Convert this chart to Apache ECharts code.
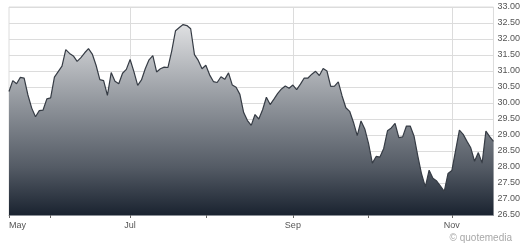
<!DOCTYPE html>
<html>
<head>
<meta charset="utf-8">
<script src="https://cdn.jsdelivr.net/npm/echarts@6/dist/echarts.min.js"></script>
<style>html,body{margin:0;padding:0;background:#fff;}#c{width:523px;height:248px;}</style>
</head>
<body>
<div id="c"></div>
<script>
// Trading calendar (categories)
const startDate = '2023-05-16';
const endDate = '2023-11-16';
const holidays = ['2023-05-29', '2023-06-19', '2023-07-04', '2023-09-04'];
const monthNames = ['Jan','Feb','Mar','Apr','May','Jun','Jul','Aug','Sep','Oct','Nov','Dec'];
const labelMonths = ['Jul', 'Sep', 'Nov'];
const yTicks = [26.5, 33.0, 0.5]; // min, max, step

// Closing prices, one per trading day
const prices = [
  30.36, 30.70, 30.60, 30.80, 30.78, 30.25, 29.84, 29.57, 29.76, 29.78,
  30.13, 30.16, 30.81, 30.98, 31.15, 31.67, 31.55, 31.47, 31.30, 31.42,
  31.57, 31.70, 31.53, 31.18, 30.73, 30.70, 30.24, 30.95, 30.68, 30.60,
  30.93, 31.05, 31.36, 30.98, 30.55, 30.72, 31.07, 31.35, 31.48, 30.97,
  31.07, 31.12, 31.11, 31.63, 32.26, 32.36, 32.45, 32.42, 32.32, 31.51,
  31.33, 31.07, 31.18, 30.88, 30.67, 30.64, 30.82, 30.74, 30.94, 30.56,
  30.49, 30.27, 29.70, 29.45, 29.30, 29.64, 29.50, 29.79, 30.18, 29.95,
  30.12, 30.30, 30.44, 30.53, 30.46, 30.56, 30.42, 30.59, 30.78, 30.78,
  30.90, 30.99, 30.86, 31.08, 31.00, 30.52, 30.53, 30.66, 30.22, 29.85,
  29.74, 29.40, 28.98, 29.44, 29.19, 28.73, 28.12, 28.33, 28.31, 28.58,
  29.13, 29.22, 29.36, 28.92, 28.94, 29.28, 29.28, 28.97, 28.35, 27.78,
  27.38, 27.90, 27.65, 27.56, 27.40, 27.24, 27.80, 27.89, 28.52, 29.15,
  29.02, 28.80, 28.60, 28.18, 28.45, 28.12, 29.12, 28.95, 28.80
];

// build trading dates
const dates = [];
{
  let d = new Date(startDate + 'T00:00:00Z');
  const end = new Date(endDate + 'T00:00:00Z');
  while (d <= end) {
    const s = d.toISOString().slice(0, 10);
    const wd = d.getUTCDay();
    if (wd !== 0 && wd !== 6 && holidays.indexOf(s) < 0) dates.push(s);
    d = new Date(d.getTime() + 86400000);
  }
}
const monthOf = s => monthNames[parseInt(s.slice(5, 7), 10) - 1];
const firstIdx = new Set();
dates.forEach((s, i) => { if (i === 0 || monthOf(s) !== monthOf(dates[i - 1])) firstIdx.add(i); });
const labelIdx = new Set([0]);
const gridIdx = new Set();
firstIdx.forEach(i => { if (labelMonths.indexOf(monthOf(dates[i])) >= 0) { labelIdx.add(i); gridIdx.add(i); } });

const chart = echarts.init(document.getElementById('c'), null, { renderer: 'canvas' });
chart.setOption({
  animation: false,
  grid: { left: 9, right: 28, top: 7, bottom: 33, show: true, borderColor: '#dcdcdc', borderWidth: 1 },
  xAxis: {
    type: 'category',
    data: dates,
    boundaryGap: false,
    axisLine: { show: true, lineStyle: { color: '#8a8f96', width: 1 } },
    axisTick: { show: true, length: 3, interval: (i) => firstIdx.has(i), lineStyle: { color: '#666' } },
    axisLabel: {
      interval: (i) => labelIdx.has(i),
      formatter: (v) => monthOf(v),
      color: '#555', fontSize: 9, fontFamily: 'Liberation Sans, Arial, sans-serif',
      margin: 6, alignMinLabel: 'left', showMinLabel: true
    },
    splitLine: { show: true, interval: (i) => gridIdx.has(i), lineStyle: { color: '#dcdcdc', width: 1 } }
  },
  yAxis: {
    type: 'value',
    position: 'right',
    min: yTicks[0], max: yTicks[1], interval: yTicks[2],
    axisLine: { show: false },
    axisTick: { show: false },
    axisLabel: {
      formatter: (v) => v.toFixed(2), color: '#555', fontSize: 9,
      fontFamily: 'Liberation Sans, Arial, sans-serif', margin: 4
    },
    splitLine: { show: true, lineStyle: { color: '#dcdcdc', width: 1 } }
  },
  series: [{
    type: 'line',
    data: prices,
    symbol: 'none',
    lineStyle: { color: '#363c45', width: 1.2 },
    areaStyle: {
      opacity: 1,
      color: new echarts.graphic.LinearGradient(0, 0, 0, 1, [
        { offset: 0, color: '#dfe0e2' },
        { offset: 0.45, color: '#8a8f96' },
        { offset: 0.75, color: '#545b65' },
        { offset: 1, color: '#1a2330' }
      ])
    }
  }],
  graphic: [{
    type: 'text', right: 11, top: 233,
    style: { text: '© quotemedia', fill: '#a8a8a8', fontSize: 10, fontFamily: 'Liberation Sans, Arial, sans-serif' }
  }]
});
</script>
</body>
</html>
